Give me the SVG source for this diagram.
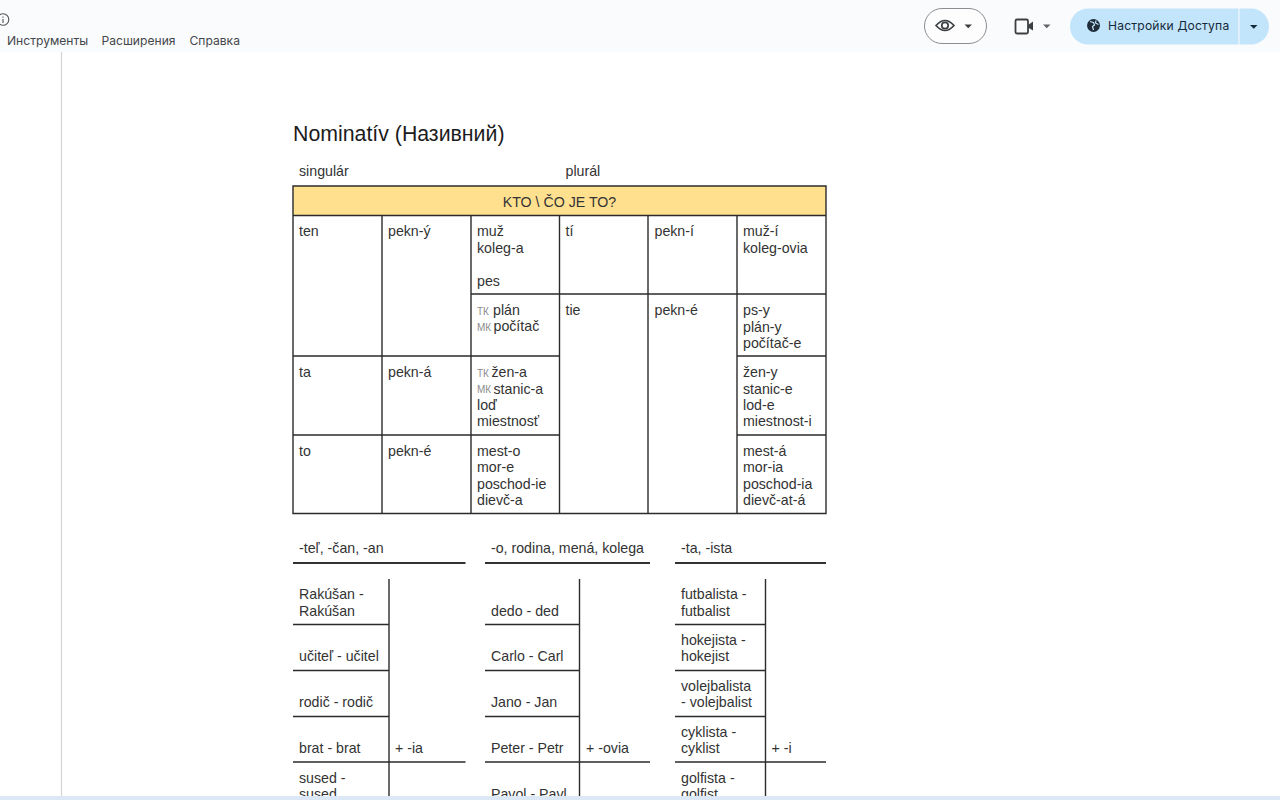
<svg xmlns="http://www.w3.org/2000/svg" width="1280" height="800" viewBox="0 0 1280 800">
<style>
text{font-family:"Liberation Sans",Arial,sans-serif;font-size:14.2px;fill:#333}
.ui{font-family:Inter,"Noto Sans",sans-serif;font-size:12.1px;fill:#44474a}
.k{font-size:10px;fill:#8c8c8c}
.l{stroke:#2b2b2b;stroke-width:1.4;fill:none}
.h{stroke:#333;stroke-width:2.2;fill:none}
</style>
<rect width="1280" height="800" fill="#fff"/>
<g id="toolbar">
<rect width="1280" height="52" fill="#fafbfd"/>
<circle cx="3" cy="19.500" r="5.800" fill="none" stroke="#555" stroke-width="1.100"/>
<path d="M3 16.500v1.200M3 19v4" stroke="#555" stroke-width="1.100" fill="none"/>
<text class="ui" x="7" y="44.500">Инструменты</text>
<text class="ui" x="101.500" y="44.500">Расширения</text>
<text class="ui" x="189.500" y="44.500">Справка</text>
<rect x="924.500" y="8.500" width="62" height="35" rx="17.500" fill="#fdfdfe" stroke="#8a8d91" stroke-width="1"/>
<path d="M936 25.500q9-10 18 0q-9 10-18 0z" fill="none" stroke="#3c4043" stroke-width="1.700"/>
<circle cx="945" cy="25.500" r="3.200" fill="none" stroke="#3c4043" stroke-width="1.700"/>
<path d="M964.500 24.500h7.500l-3.750 3.700z" fill="#3c4043"/>
<path d="M1017 19.500h9.500q1.500 0 1.500 1.500v11q0 1.500-1.500 1.500h-9.500q-1.500 0-1.500-1.500v-11q0-1.500 1.500-1.500z" fill="none" stroke="#3c4043" stroke-width="1.800"/>
<path d="M1028 25l5-3.500v9l-5-3z" fill="#3c4043"/>
<path d="M1043 24.500h7.500l-3.750 3.700z" fill="#5f6368"/>
<path d="M1088 8.500h150.500v36h-150.500a18 18 0 0 1 0-36z" fill="#c3e5fb"/>
<path d="M1239.500 8.500h11.500a18 18 0 0 1 0 36h-11.500z" fill="#c3e5fb"/>
<circle cx="1093.500" cy="25.500" r="6.500" fill="#1f2d3a"/>
<path d="M1090 21.500l3.500 1 1 2.500-2 1.500 1 3.500M1096 20.500l-.5 2.500 3 1.500" stroke="#c3e5fb" stroke-width="1.200" fill="none"/>
<text class="ui" x="1108" y="30" style="fill:#14293a" letter-spacing=".2">Настройки Доступа</text>
<path d="M1250 25h7.500l-3.750 3.700z" fill="#14293a"/>
</g>
<path id="margin" d="M61.500 52V796" stroke="#d4d4d4" stroke-width="1.200"/>
<g id="heading">
<text x="293" y="141" style="font-size:21.300px;fill:#1c1c1c">Nominatív (Називний)</text>
<text x="299" y="176">singulár</text>
<text x="565.500" y="176">plurál</text>
</g>
<g id="main-table">
<rect x="293" y="186" width="533" height="29.500" fill="#ffe08f"/>
<text x="559.500" y="206.500" text-anchor="middle">KTO \ ČO JE TO?</text>
<path class="l" d="M293 186H826V513.500H293ZM293 215.500H826M471 294H559.500M648 294H826M559.500 294H648M293 356H559.500M737 356H826M293 435H559.500M737 435H826M382 215.500V513.500M471 215.500V513.500M559.500 215.500V513.500M648 215.500V513.500M737 215.500V513.500"/>
<text x="299" y="236">ten</text><text x="388" y="236">pekn-ý</text>
<text x="477" y="236">muž</text><text x="477" y="252.500">koleg-a</text><text x="477" y="285.500">pes</text>
<text x="565.500" y="236">tí</text><text x="654.500" y="236">pekn-í</text>
<text x="743" y="236">muž-í</text><text x="743" y="252.500">koleg-ovia</text>
<text class="k" x="477" y="315">ТК</text><text x="493" y="315">plán</text>
<text class="k" x="477" y="331">МК</text><text x="493.500" y="331">počítač</text>
<text x="565.500" y="315">tie</text><text x="654.500" y="315">pekn-é</text>
<text x="743" y="315">ps-y</text><text x="743" y="331.500">plán-y</text><text x="743" y="348">počítač-e</text>
<text x="299" y="377">ta</text><text x="388" y="377">pekn-á</text>
<text class="k" x="477" y="377">ТК</text><text x="491.500" y="377">žen-a</text>
<text class="k" x="477" y="393">МК</text><text x="493.500" y="393.500">stanic-a</text>
<text x="477" y="410">loď</text><text x="477" y="426">miestnosť</text>
<text x="743" y="377">žen-y</text><text x="743" y="393.500">stanic-e</text><text x="743" y="410">lod-e</text><text x="743" y="426">miestnost-i</text>
<text x="299" y="456">to</text><text x="388" y="456">pekn-é</text>
<text x="477" y="456">mest-o</text><text x="477" y="472">mor-e</text><text x="477" y="488.500">poschod-ie</text><text x="477" y="505">dievč-a</text>
<text x="743" y="456">mest-á</text><text x="743" y="472">mor-ia</text><text x="743" y="488.500">poschod-ia</text><text x="743" y="505">dievč-at-á</text>
</g>
<g id="column-1">
<text x="299" y="553">-teľ, -čan, -an</text>
<path class="h" d="M293 563H465.500"/>
<path class="l" d="M389 579V797M293 624.500H389M293 670.500H389M293 716.500H389M293 762H465.500"/>
<text x="299" y="599">Rakúšan -</text><text x="299" y="615.500">Rakúšan</text>
<text x="299" y="661">učiteľ - učitel</text>
<text x="299" y="707">rodič - rodič</text>
<text x="299" y="753">brat - brat</text><text x="395" y="753">+ -ia</text>
<text x="299" y="783">sused -</text><text x="299" y="799">sused</text>
</g>
<g id="column-2">
<text x="491" y="553">-o, rodina, mená, kolega</text>
<path class="h" d="M485 563H650"/>
<path class="l" d="M579.500 579V797M485 624.500H579.500M485 670.500H579.500M485 716.500H579.500M485 762H650"/>
<text x="491" y="615.500">dedo - ded</text>
<text x="491" y="661">Carlo - Carl</text>
<text x="491" y="707">Jano - Jan</text>
<text x="491" y="753">Peter - Petr</text><text x="586" y="753">+ -ovia</text>
<text x="491" y="799">Pavol - Pavl</text>
</g>
<g id="column-3">
<text x="681" y="553">-ta, -ista</text>
<path class="h" d="M675 563H826"/>
<path class="l" d="M765.500 579V797M675 624.500H765.500M675 670.500H765.500M675 716.500H765.500M675 762H826"/>
<text x="681" y="599">futbalista -</text><text x="681" y="615.500">futbalist</text>
<text x="681" y="645">hokejista -</text><text x="681" y="661">hokejist</text>
<text x="681" y="691">volejbalista</text><text x="681" y="707">- volejbalist</text>
<text x="681" y="737">cyklista -</text><text x="681" y="753">cyklist</text><text x="771.500" y="753">+ -i</text>
<text x="681" y="783">golfista -</text><text x="681" y="799">golfist</text>
</g>
<rect id="bottom-strip" x="0" y="796" width="1280" height="4" fill="#dce8f6"/>
</svg>
